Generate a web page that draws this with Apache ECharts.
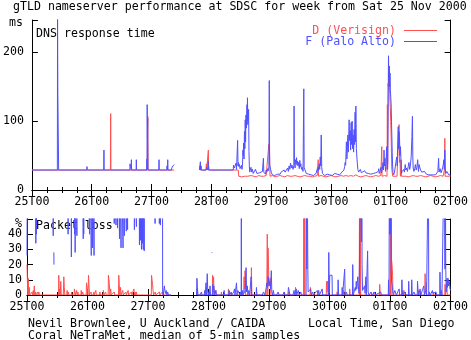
<!DOCTYPE html>
<html>
<head>
<meta charset="utf-8">
<script src="https://cdn.jsdelivr.net/npm/echarts@6.0.0/dist/echarts.min.js"></script>
<style>
html,body{margin:0;padding:0;background:#fff}
#chart{width:471px;height:340px}
</style>
</head>
<body>
<div id="chart"></div>
<script>
// Hours are counted from Sat 25 Nov 2000 00:00 local time (San Diego).
const dayLabels = ['25T00', '26T00', '27T00', '28T00', '29T00', '30T00', '01T00', '02T00'];
const msTicks = [0, 100, 200];
const lossTicks = [0, 10, 20, 30, 40];

// DNS response time, ms — D (Verisign)
const dResp = [
  [0,29],[30.0,29],[30.05,31],[30.1,29],[31.5,29],[31.6,111],[31.7,29],
  [46.3,29],[46.35,75],[46.5,107],[46.6,29],
  [57.1,29],[57.15,null],[67.2,null],[67.25,29],[67.4,35],[67.6,35],[67.7,29],
  [69.9,29],[70.0,38],[70.1,29],[70.7,29],[70.8,58],[70.9,36],[71.1,29],
  [82.8,29],[83.0,20],[83.6,21],[84.2,19],[84.8,21],[85.4,20],[86.0,22],[86.6,20],[87.2,19],[88.0,21],
  [89.0,20],[90.0,19],[91.0,21],[92.0,20],[93.0,20],[94.0,21],[94.8,20],[95.0,20],[95.1,67],[95.3,62],
  [95.45,41],[95.55,20],[96.5,21],[97.5,19],[98.5,20],[99.5,21],[100.5,20],[101.5,19],[102.5,21],
  [103.5,20],[104.5,20],[105.5,21],[106.5,20],[107.5,19],[108.5,20],[109.5,21],[110.5,20],[111.5,20],
  [112.5,19],[113.5,20],[114.5,21],[114.8,20],[114.9,44],[115.0,20],[116.0,21],[117.0,20],[118.0,19],
  [119.0,20],[120.0,21],[121.0,20],[122.0,19],[123.0,20],[124.0,21],[125.0,20],[126.0,21],[127.0,20],
  [128.0,21],[129.0,20],[130.0,22],[131.0,20],[132.0,19],[133.0,20],[134.0,21],[135.0,20],[136.0,19],
  [137.0,20],[138.0,21],[139.0,20],[140.0,21],[140.3,20],[140.4,63],[140.5,20],[141.5,21],[142.5,20],
  [142.65,124],[142.75,30],[142.95,155],[143.05,150],[143.3,180],[143.45,150],[143.6,140],[143.8,120],
  [144.0,100],[144.2,70],[144.4,32],[144.6,25],[144.8,20],[145.5,21],[146.5,20],[147.2,20],[147.35,95],
  [147.5,40],[147.7,44],[147.9,20],[148.2,44],[148.3,20],[149.0,21],[150.0,20],[151.0,19],[152.0,20],
  [153.0,21],[154.0,20],[155.0,20],[156.0,21],[157.0,20],[158.0,19],[159.0,20],[160.0,21],[161.0,20],
  [162.0,19],[163.0,20],[164.0,21],[165.0,20],[165.5,22],[165.6,30],[165.7,75],[165.8,20],[166.5,21],
  [167.5,20],[168,20]
];

// DNS response time, ms — F (Palo Alto)
const fResp = [
  [0,29],[10.2,29],[10.28,250],[10.4,139],[10.68,139],[10.72,29],
  [22.0,29],[22.1,34],[22.2,29],
  [28.8,29],[28.9,58],[29.0,29],
  [39.3,29],[39.35,38],[39.6,40],[39.7,36],[39.85,29],[39.9,44],[40.0,29],
  [41.8,29],[41.9,44],[42.0,29],
  [46.1,29],[46.15,45],[46.2,29],[46.25,124],[46.35,76],[46.45,104],[46.55,29],
  [50.9,29],[51.0,44],[51.1,29],
  [54.1,29],[54.2,35],[54.4,29],[54.5,44],[54.6,29],
  [56.0,29],[56.1,32],[56.4,33],[56.6,35],[56.8,37],[57.0,34],[57.1,37],[57.15,null],
  [67.2,null],[67.25,29],[67.5,29],[67.6,41],[67.7,29],[67.9,35],[68.0,29],
  [69.9,29],[70.0,33],[70.3,33],[70.5,29],[70.7,29],[70.75,42],[70.85,29],
  [80.8,29],[80.9,36],[81.2,32],[81.4,33],[81.7,30],[81.9,39],[82.1,30],[82.4,31],[82.55,72],[82.7,35],
  [82.9,40],[83.1,34],[83.3,37],[83.5,31],[83.8,33],[84.1,36],[84.3,30],[84.5,36],[84.7,58],[84.8,50],
  [84.95,68],[85.1,45],[85.3,85],[85.45,60],[85.6,102],[85.75,70],[85.9,109],[86.1,90],[86.3,124],
  [86.4,100],[86.5,134],[86.65,95],[86.95,117],[87.1,56],[87.25,35],[87.4,26],[87.6,24],[87.9,33],
  [88.2,26],[88.5,30],[88.8,24],[89.1,26],[89.4,23],[89.7,30],[90.0,28],[90.3,24],[90.7,26],[91.0,23],
  [91.4,25],[91.8,27],[92.1,24],[92.5,27],[92.8,25],[92.9,46],[93.05,26],[93.4,28],[93.7,23],[94.0,29],
  [94.3,26],[94.6,31],[94.9,28],[95.1,34],[95.25,159],[95.4,36],[95.6,38],[95.8,30],[96.1,25],[96.5,22],
  [97.0,23],[97.4,21],[97.8,22],[98.2,21],[98.6,23],[99.0,22],[99.3,25],[99.6,23],[100.0,26],[100.4,28],
  [100.8,25],[101.2,29],[101.6,26],[102.0,28],[102.3,25],[102.6,32],[102.9,27],[103.2,35],[103.5,30],
  [103.8,39],[104.1,32],[104.4,36],[104.8,30],[105.1,35],[105.2,122],[105.35,40],[105.6,32],[105.8,44],
  [106.0,38],[106.2,47],[106.4,36],[106.6,42],[106.8,35],[107.0,40],[107.3,31],[107.5,43],[107.7,34],
  [107.9,38],[108.2,30],[108.5,33],[108.8,27],[109.0,29],[109.1,147],[109.25,33],[109.5,30],[109.8,28],
  [110.1,24],[110.5,22],[111.0,23],[111.5,21],[112.0,22],[112.5,23],[113.0,21],[113.5,22],[114.0,24],
  [114.4,22],[114.7,33],[115.0,28],[115.3,38],[115.5,30],[115.7,48],[115.9,35],[116.1,80],[116.3,33],
  [116.6,24],[117.0,22],[117.5,21],[118.0,22],[118.5,23],[119.0,21],[119.5,22],[120.0,23],[120.5,21],
  [121.0,23],[121.5,24],[122.0,22],[122.5,23],[123.0,21],[123.5,22],[124.0,24],[124.4,26],[124.8,27],
  [125.2,29],[125.5,34],[125.7,40],[125.9,36],[126.2,70],[126.4,45],[126.6,62],[126.8,80],[127.0,55],
  [127.3,102],[127.5,72],[127.7,86],[127.9,58],[128.1,98],[128.3,66],[128.5,100],[128.7,60],[128.9,80],
  [129.1,55],[129.3,88],[129.5,66],[129.7,113],[129.85,70],[130.0,122],[130.2,60],[130.4,48],[130.6,38],
  [130.8,30],[131.1,26],[131.5,28],[131.8,30],[132.2,25],[132.6,27],[133.0,24],[133.5,28],[134.0,25],
  [134.5,27],[135.0,24],[135.5,26],[136.0,23],[136.5,25],[137.0,24],[137.5,23],[138.0,25],[138.5,24],
  [139.0,27],[139.2,31],[139.4,24],[139.8,28],[140.1,33],[140.3,25],[140.6,30],[140.9,40],[141.1,29],
  [141.3,58],[141.5,35],[141.7,46],[141.9,27],[142.1,38],[142.4,63],[142.6,30],[142.8,40],[143.0,150],
  [143.1,195],[143.25,160],[143.4,180],[143.55,150],[143.7,170],[143.85,145],[144.0,135],[144.15,126],
  [144.3,100],[144.45,77],[144.6,54],[144.75,35],[144.9,25],[145.2,22],[145.5,26],[145.8,24],[146.1,28],
  [146.4,48],[146.6,35],[146.8,70],[147.0,92],[147.15,60],[147.3,85],[147.5,78],[147.7,50],[147.9,63],
  [148.1,44],[148.3,24],[148.6,27],[148.9,25],[149.2,30],[149.5,26],[149.8,37],[150.1,29],[150.4,32],
  [150.7,27],[151.0,34],[151.3,40],[151.6,30],[151.9,36],[152.2,48],[152.5,78],[152.7,107],[152.85,49],
  [153.0,32],[153.3,27],[153.6,31],[153.9,37],[154.2,29],[154.5,33],[154.8,44],[155.1,27],[155.4,37],
  [155.7,32],[156.0,29],[156.4,26],[156.8,28],[157.2,25],[157.6,27],[158.0,24],[158.5,23],[159.0,22],
  [159.5,21],[160.0,22],[160.5,21],[161.0,22],[161.5,21],[162.0,22],[162.5,24],[162.9,27],[163.2,46],
  [163.4,26],[163.8,31],[164.2,25],[164.6,29],[165.0,35],[165.3,44],[165.5,30],[165.7,58],[165.85,32],
  [166.1,24],[166.5,27],[166.9,25],[167.3,22],[167.7,24],[168,22]
];

// Packet loss, % — D (Verisign)
const dLoss = [
  [0,20],[0.3,0],[0.5,11],[0.7,0],[0.9,5],[1.1,0],
  [1.8,0],[2.0,2],[2.2,0],[2.5,3],[2.7,0],[2.9,6],[3.1,0],[3.3,2],[3.5,0],[4.0,0],[4.2,2],[4.4,0],[4.7,2],[4.9,0],
  [12.5,0],[12.6,13],[12.8,0],[13.0,4],[13.2,0],[13.4,9],[13.6,0],[14.4,0],[14.6,12],[14.8,5],[15.0,0],
  [15.8,0],[15.9,3],[16.1,0],[16.4,2],[16.6,0],[17.6,0],[17.7,2],[17.9,0],[18.7,0],[18.8,4],[19.0,2],[19.2,0],
  [19.7,3],[19.9,0],[20.2,2],[20.4,0],[21.4,0],[21.5,3],[21.7,0],[22.1,2],[22.3,0],
  [23.5,0],[23.6,8],[23.8,7],[24.0,9],[24.2,0],[24.4,13],[24.6,6],[24.8,0],[25.4,2],[25.6,0],
  [26.4,0],[26.5,2],[26.7,0],[27.3,3],[27.5,0],[28.8,0],[28.9,2],[29.1,0],[30.2,0],[30.3,3],[30.5,0],[31.2,2],[31.4,0],
  [32.2,0],[32.3,13],[32.5,10],[32.7,6],[32.9,0],[33.2,4],[33.4,0],[34.6,2],[34.8,0],
  [36.3,0],[36.4,13],[36.6,7],[36.8,0],[37.1,5],[37.3,0],[38.0,3],[38.2,0],
  [39.2,2],[39.4,0],[40.1,3],[40.3,0],[41.4,2],[41.6,0],[42.4,4],[42.6,0],[42.9,2],[43.1,0],[43.4,2],[43.6,0],
  [49.3,0],[49.4,13],[49.6,12],[49.8,7],[50.0,3],[50.2,0],
  [50.9,2],[51.1,0],[52.5,2],[52.7,0],[53.7,2],[53.9,0],[54.4,1],[54.6,0],[57.1,0],[57.15,null],
  [67.2,null],[67.25,0],[67.4,0],[67.5,4],[67.7,0],[73.5,0],[73.6,13],[73.8,5],[74.0,12],[74.2,0],
  [74.8,0],[74.9,3],[75.1,0],[77.0,0],[77.1,2],[77.3,0],[79.8,0],[79.9,4],[80.1,0],
  [85.9,0],[86.1,12],[86.3,4],[86.5,16],[86.7,0],[88.9,0],[89.0,18],[89.2,0],
  [95.1,0],[95.3,40],[95.5,0],[95.6,31],[95.8,19],[96.0,6],[96.5,11],[96.7,0],
  [103.8,0],[103.9,2],[104.1,0],[106.4,0],[106.5,5],[106.7,0],
  [109.7,0],[109.8,100],[109.95,0],[110.1,100],[110.25,0],[112.3,0],[112.4,5],[112.6,0],
  [118.7,0],[118.8,9],[119.0,2],[119.2,9],[119.4,0],[121.6,0],[121.7,1],[121.9,0],[122.9,0],[123.0,2],[123.2,0],
  [125.5,0],[125.6,3],[125.8,0],[127.9,0],[128.0,4],[128.2,0],
  [131.8,0],[131.9,100],[132.05,0],[132.2,100],[132.35,0],[137.4,0],[137.5,2],[137.7,0],[139.8,0],[139.9,7],[140.1,0],
  [144.1,0],[144.2,100],[144.35,0],[144.45,100],[144.6,23],[144.8,20],[145.0,13],[145.2,0],
  [149.0,0],[149.1,3],[149.3,0],[149.5,3],[149.7,0],[155.2,0],[155.3,3],[155.5,0],
  [157.8,0],[157.9,14],[158.1,2],[158.3,8],[158.5,0],[161.1,0],[161.2,2],[161.4,0],
  [165.7,0],[165.8,7],[166.0,0],[166.4,0],[166.5,9],[166.7,0],[168,0]
];

// Packet loss, % — F (Palo Alto); values above 50 run off the top of the panel
const fLoss = [
  [0,26],[0.15,100],[1.4,100],[1.45,null],[1.5,27],[1.7,27],[1.75,null],[1.9,46],[2.05,46],[2.1,null],[2.2,100],
  [3.4,100],[3.5,34],[3.6,100],[3.75,40],[3.85,100],
  [4.9,100],[4.95,null],[5.0,36],[5.15,36],[5.2,null],[5.3,100],
  [10.3,100],[10.4,39],[10.5,100],[10.6,null],[10.65,28],[10.7,20],[10.75,null],[10.8,100],
  [16.2,100],[16.3,40],[16.4,100],[17.5,100],[17.6,25],[17.7,100],
  [18.8,100],[18.9,40],[19.0,100],[19.1,28],[19.2,100],[19.7,100],[19.8,39],[19.9,100],
  [20.9,100],[20.95,null],[21.0,18],[21.15,18],[21.2,null],[21.3,100],
  [22.2,100],[22.3,37],[22.4,100],[22.5,40],[22.6,100],
  [23.6,100],[23.65,null],[23.7,38],[23.85,38],[23.9,null],[24.0,100],
  [24.7,100],[24.8,40],[24.9,100],
  [25.4,100],[25.5,26],[25.6,100],[25.9,100],[26.0,31],[26.1,100],[26.5,100],[26.6,26],[26.7,100],
  [30.1,100],[30.15,null],[30.25,37],[30.4,37],[30.45,null],[30.6,100],
  [34.5,100],[34.6,47],[34.7,100],[35.2,100],[35.3,46],[35.4,100],[35.8,100],[35.9,44],[36.0,100],
  [36.6,100],[36.7,37],[36.8,100],[37.2,100],[37.3,31],[37.4,100],
  [38.0,100],[38.1,31],[38.2,100],[38.5,100],[38.6,39],[38.7,100],
  [39.3,100],[39.4,42],[39.5,100],[39.8,100],[39.9,43],[40.0,100],
  [40.6,100],[40.65,null],[40.7,36],[40.85,36],[40.9,null],[41.0,100],
  [42.5,100],[42.6,43],[42.7,100],[43.3,100],[43.4,45],[43.5,100],
  [44.5,100],[44.6,33],[44.7,100],[44.9,100],[45.0,36],[45.1,100],[45.3,100],[45.4,30],[45.5,100],
  [45.7,100],[45.8,34],[45.9,100],[46.0,100],[46.1,30],[46.2,100],[46.4,100],[46.5,29],[46.6,100],
  [47.8,100],[47.85,null],[47.9,44],[48.05,44],[48.1,null],[48.2,100],
  [50.7,100],[50.8,47],[50.9,100],[52.4,100],[52.5,47],[52.6,100],[52.8,100],[52.9,46],[53.0,100],
  [53.4,100],[53.45,null],[53.5,37],[53.65,37],[53.7,null],[53.75,100],[53.8,2],
  [54.0,0],[54.3,0],[54.5,6],[54.7,3],[54.9,1],[55.2,3],[55.5,0],[55.8,2],[56.1,0],[56.4,1],[56.7,0],[57.1,0],[57.15,null],
  [67.2,null],[67.25,0],[67.4,11],[67.6,5],[67.8,0],[68.4,1],[68.6,0],[69.2,2],[69.4,0],[70.3,0],[70.5,3],[70.7,0],
  [71.0,8],[71.2,0],[71.5,14],[71.7,2],[71.9,0],[72.2,2],[72.4,0],[72.6,6],[72.8,0],[73.1,0],
  [73.15,null],[73.2,28],[73.5,28],[73.55,null],[73.6,7],[73.7,0],[74.1,6],[74.3,6],[74.5,0],[74.9,3],[75.1,0],
  [78.0,0],[78.2,3],[78.4,0],[78.7,1],[79.0,0],[80.0,0],[80.2,3],[80.4,0],[81.0,2],[81.2,0],[82.0,2],[82.3,4],[82.5,0],
  [83.0,0],[83.1,8],[83.3,0],[83.6,3],[83.9,2],[84.2,4],[84.5,0],[84.8,2],[84.95,0],[85.0,100],[85.1,0],
  [85.4,3],[85.6,0],[86.3,2],[86.6,5],[86.9,18],[87.1,2],[87.4,6],[87.6,0],[88.0,3],[88.3,0],[88.9,12],[89.1,0],
  [89.6,1],[90.0,0],[90.9,0],[91.0,5],[91.2,0],[92.5,0],[93.0,1],[93.3,0],[93.8,2],[94.2,2],[94.4,0],
  [94.9,5],[95.1,8],[95.4,5],[95.7,12],[96.0,6],[96.3,9],[96.6,4],[96.9,16],[97.1,2],[97.4,0],[97.7,3],[98.0,0],
  [98.7,1],[99.0,0],[99.6,2],[100.0,0],[101.5,0],[102.0,2],[102.3,0],[103.5,0],[103.7,5],[104.0,4],[104.3,0],
  [105.5,0],[105.9,3],[106.2,0],[106.8,4],[107.0,0],[107.6,3],[108.0,0],[108.6,2],[108.9,0],
  [110.7,0],[110.8,100],[111.0,17],[111.1,100],[111.4,17],[111.5,2],[111.8,3],[112.1,1],[112.5,4],[112.8,0],
  [113.3,2],[113.6,0],[115.1,3],[115.4,0],[115.7,3],[116.0,0],[117.1,4],[117.3,0],
  [119.6,0],[119.7,28],[119.9,1],[120.1,13],[120.5,12],[121.0,13],[121.1,0],[123.3,0],[123.4,10],[123.6,0],
  [124.9,0],[125.0,5],[125.2,0],[125.9,0],[126.0,17],[126.2,0],[126.7,2],[127.0,0],[129.1,0],[129.2,20],[129.4,0],
  [130.2,5],[130.4,3],[130.6,9],[130.8,4],[131.2,12],[131.4,6],[131.7,1],[132.4,0],
  [132.5,100],[132.7,35],[132.8,100],[132.9,20],[133.1,3],[133.5,2],[133.9,6],[134.1,1],[134.4,12],[134.6,0],
  [135.0,0],[135.1,29],[135.3,2],[135.7,0],[136.5,2],[136.8,0],[137.9,2],[138.2,0],[140.3,2],[140.6,0],
  [143.3,0],[143.4,10],[143.6,0],[143.75,100],[143.9,40],[144.0,100],[144.15,40],[144.3,100],[144.45,17],
  [144.6,9],[144.8,7],[145.0,3],[145.3,0],[145.9,3],[146.2,2],[146.5,0],[147.6,4],[147.8,0],
  [148.6,0],[148.7,10],[148.9,0],[150.0,2],[150.3,0],[151.3,0],[151.4,9],[151.6,0],[152.5,0],[152.6,10],[152.8,0],
  [153.5,2],[154.0,0],[154.8,0],[154.9,9],[155.1,3],[155.4,0],[155.9,4],[156.2,0],[157.4,6],[157.6,0],
  [158.2,3],[158.5,0],[159.1,0],[159.2,100],[159.35,0],[159.6,2],[160.0,0],[160.8,3],[161.0,1],[161.5,0],
  [162.2,2],[162.5,0],[163.7,0],[163.8,15],[164.0,0],[164.4,3],[164.6,0],
  [165.3,0],[165.5,100],[165.8,17],[165.9,100],[166.1,17],[166.3,2],[166.6,11],[166.8,5],[167.0,11],
  [167.2,6],[167.5,9],[167.8,4],[168,3]
];

const RED = '#ff5050';
const BLUE = '#5050ff';
const MONO = 'DejaVu Sans Mono';
const FS = 11.6;
const font = FS + 'px "' + MONO + '"';

const chart = echarts.init(document.getElementById('chart'), null, { renderer: 'canvas' });

function timeAxis(grid, pos, labels, margin) {
  return {
    type: 'value', gridIndex: grid, position: pos, min: 0, max: 168, interval: 24,
    axisLine: { show: true, lineStyle: { color: '#000', width: 1 } },
    axisTick: { show: true, inside: true, length: 6, lineStyle: { color: '#000' } },
    minorTick: { show: true, splitNumber: 4, length: 3, lineStyle: { color: '#000' } },
    splitLine: { show: false },
    axisLabel: {
      show: labels, margin: margin, color: '#000', fontFamily: MONO, fontSize: FS,
      formatter: v => dayLabels[Math.round(v / 24)] || ''
    }
  };
}

function valueAxis(grid, pos, max, interval, ticks, labels, margin) {
  return {
    type: 'value', gridIndex: grid, position: pos, min: 0, max: max, interval: interval,
    axisLine: { show: true, onZero: false, lineStyle: { color: '#000', width: 1 } },
    axisTick: { show: true, inside: true, length: 6, lineStyle: { color: '#000' } },
    splitLine: { show: false },
    axisLabel: {
      show: labels, margin: margin, color: '#000', fontFamily: MONO, fontSize: FS,
      formatter: v => (ticks.indexOf(v) >= 0 ? String(v) : '')
    }
  };
}

function lineSeries(name, data, color, xi, yi) {
  return {
    name: name, type: 'line', data: data, xAxisIndex: xi, yAxisIndex: yi,
    showSymbol: false, symbol: 'none', connectNulls: false, clip: true,
    lineStyle: { color: color, width: 1 }, itemStyle: { color: color },
    emphasis: { disabled: true }, silent: true
  };
}

function txt(x, y, s, color, align) {
  return {
    type: 'text', silent: true,
    style: { x: x, y: y, text: s, fill: color || '#000', font: font, align: align || 'left', verticalAlign: 'middle' }
  };
}

chart.setOption({
  animation: false,
  backgroundColor: '#fff',
  grid: [
    { left: 27, top: 20, width: 425, height: 170 },
    { left: 27, top: 219, width: 425, height: 76 }
  ],
  xAxis: [
    timeAxis(0, 'bottom', true, 6),
    timeAxis(0, 'top', false, 6),
    timeAxis(1, 'bottom', true, 6),
    timeAxis(1, 'top', false, 6)
  ],
  yAxis: [
    valueAxis(0, 'left', 247, 100, msTicks, true, 8),
    valueAxis(0, 'right', 247, 100, msTicks, false, 8),
    valueAxis(1, 'left', 50, 10, lossTicks, true, 5),
    valueAxis(1, 'right', 50, 10, lossTicks, false, 5)
  ],
  series: [
    lineSeries('D (Verisign)', dResp, RED, 0, 0),
    lineSeries('F (Palo Alto)', fResp, BLUE, 0, 0),
    lineSeries('D (Verisign)', dLoss, RED, 2, 2),
    lineSeries('F (Palo Alto)', fLoss, BLUE, 2, 2)
  ],
  graphic: [
    txt(13, 6.5, 'gTLD nameserver performance at SDSC for week from Sat 25 Nov 2000'),
    txt(9, 22.5, 'ms'),
    txt(36, 34, 'DNS response time'),
    txt(396, 30.5, 'D (Verisign)', RED, 'right'),
    txt(396, 41.5, 'F (Palo Alto)', BLUE, 'right'),
    { type: 'line', silent: true, shape: { x1: 404, y1: 30.5, x2: 437, y2: 30.5 }, style: { stroke: RED, lineWidth: 1 } },
    { type: 'line', silent: true, shape: { x1: 404, y1: 41.5, x2: 437, y2: 41.5 }, style: { stroke: BLUE, lineWidth: 1 } },
    txt(22, 224, '%', '#000', 'right'),
    txt(36, 226, 'Packet loss'),
    txt(28, 324, 'Nevil Brownlee, U Auckland / CAIDA'),
    txt(28, 335.5, 'Coral NeTraMet, median of 5-min samples'),
    txt(308, 324, 'Local Time, San Diego')
  ]
});
</script>
</body>
</html>
